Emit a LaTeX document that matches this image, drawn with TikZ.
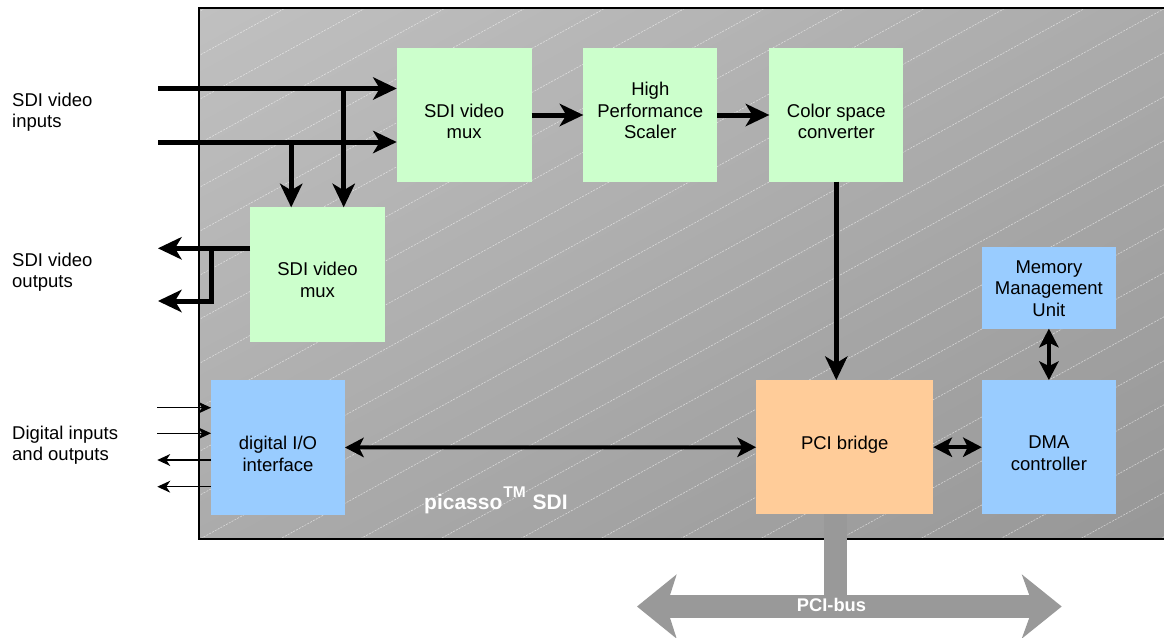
\documentclass[tikz,border=0pt]{standalone}
\usepackage{fontspec}
\setmainfont{Liberation Sans}
\usetikzlibrary{arrows.meta,shadings}
\definecolor{boxgreen}{HTML}{CCFFCC}
\definecolor{boxblue}{HTML}{99CCFF}
\definecolor{boxorange}{HTML}{FFCC99}
\definecolor{busgray}{HTML}{999999}
\definecolor{bgUL}{HTML}{C0C0C0}
\definecolor{bgUR}{HTML}{ABABAB}
\definecolor{bgLL}{HTML}{ABABAB}
\definecolor{bgLR}{HTML}{979797}
\tikzset{
  blk/.style={inner sep=0pt, outer sep=0pt, draw=none},
  gbox/.style={blk, fill=boxgreen},
  bbox/.style={blk, fill=boxblue},
  obox/.style={blk, fill=boxorange},
  txt/.style={align=center, inner sep=0pt, font=\fontsize{18.5}{21.5}\selectfont},
  ltxt/.style={align=left, inner sep=0pt, anchor=west, font=\fontsize{18.5}{21.5}\selectfont},
  arrBig/.style={line width=5pt, -{Stealth[length=24pt, width=23pt, inset=7pt, line width=0pt]}},
  arrMid/.style={line width=4pt, {Stealth[length=19pt, width=20pt, inset=5pt, line width=0pt]}-{Stealth[length=19pt, width=20pt, inset=5pt, line width=0pt]}},
  arrSig/.style={line width=1.5pt, -{Stealth[length=13pt, width=12pt, inset=4pt, line width=0pt]}},
  stripe/.style={white, opacity=0.55, line width=0.6pt, dash pattern=on 2pt off 1.2pt},
}
\begin{document}
\begin{tikzpicture}[x=1pt, y=-1pt]
\useasboundingbox (0,0) rectangle (1164,637);
% frame
\shade[upper left=bgUL, upper right=bgUR, lower left=bgLL, lower right=bgLR] (198.5,8.3) rectangle (1170,539.3);
\begin{scope}
  \clip (198.5,8.3) rectangle (1170,539.3);
  \foreach \k in {-13,...,15} {
    \draw[stripe] (198,{496.1+44*\k}) -- (1170,{-38.5+44*\k});
  }
\end{scope}
\draw[line width=2pt] (1170,8.3) -- (198.5,8.3) -- (198.5,539.3) -- (1170,539.3);

% PCI bus
\fill[busgray] (824.3,514.3) rectangle (846.7,596);
\fill[busgray] (637,606.5) -- (676.7,574.3) -- (670,595.2) -- (1029.3,595.2) -- (1021.7,574.3)
  -- (1061.7,606.5) -- (1021.7,638.7) -- (1029.3,617.8) -- (670,617.8) -- (676.7,638.7) -- cycle;
\node[inner sep=0pt, text=white, font=\bfseries\fontsize{18.3}{20}\selectfont] (busl) at (831.5,604.7) {PCI-bus};

% boxes
\node[gbox, minimum width=135pt, minimum height=133.4pt] (mux1) at (464.2,115) {};
\node[gbox, minimum width=134pt, minimum height=133.4pt] (scaler) at (650.3,115) {};
\node[gbox, minimum width=134pt, minimum height=133.4pt] (csc) at (836.3,115) {};
\node[gbox, minimum width=135pt, minimum height=134.4pt] (mux2) at (317.5,274.5) {};
\node[bbox, minimum width=134pt, minimum height=135pt] (io) at (278,447.5) {};
\node[obox, minimum width=177.3pt, minimum height=134.3pt] (pci) at (844.7,447.2) {};
\node[bbox, minimum width=134.3pt, minimum height=134.3pt] (dma) at (1048.9,447.2) {};
\node[bbox, minimum width=134.3pt, minimum height=81.4pt] (mmu) at (1048.9,288) {};

% box texts
\node[txt] (mux1t) at (464.2,121.5) {SDI video\\mux};
\node[txt] (scalert) at (650.3,110.5) {High\\Performance\\Scaler};
\node[txt] (csct) at (836.3,121.5) {Color space\\converter};
\node[txt] (mux2t) at (317.5,279.7) {SDI video\\mux};
\node[txt] (iot) at (278,453.7) {digital I/O\\interface};
\node[txt] (pcit) at (844.7,444.4) {PCI bridge};
\node[txt] (dmat) at (1048.9,453.3) {DMA\\controller};
\node[txt] (mmut) at (1048.9,288.3) {Memory\\Management\\Unit};

% left labels
\node[ltxt] (lin) at (12,112.4) {SDI video\\inputs};
\node[ltxt] (lout) at (12,272.3) {SDI video\\outputs};
\node[ltxt] (ldig) at (12,445) {Digital inputs\\and outputs};

% brand
\node[anchor=base west, inner sep=0pt, text=white, font=\bfseries\fontsize{21}{24}\selectfont] (brand) at (424,509.3) {picasso\kern1pt\raisebox{12pt}{\fontsize{15.5}{17}\selectfont TM}\kern1pt\ SDI};

% inputs
\coordinate (in1) at (158,88.5);
\coordinate (in2) at (158,142);
\coordinate (j1) at (343.7,88.5);
\coordinate (j2) at (291.2,142);
\draw[arrBig] (in1) -- (in1 -| mux1.west);
\draw[arrBig] (in2) -- (in2 -| mux1.west);
\draw[arrBig] (j1) -- (j1 |- mux2.north);
\draw[arrBig] (j2) -- (j2 |- mux2.north);

% chain
\draw[arrBig] (mux1) -- (scaler);
\draw[arrBig] (scaler) -- (csc);
\draw[arrBig] (csc.south) -- (csc.south |- pci.north);

% outputs
\coordinate (o1) at (158,248.3);
\coordinate (o2) at (158,301);
\coordinate (jo) at (211.7,248.3);
\draw[arrBig] (mux2.west |- o1) -- (o1);
\draw[arrBig, line join=miter] (jo) -- (jo |- o2) -- (o2);

% digital I/O
\coordinate (d1) at (157.3,407.7);
\coordinate (d2) at (157.3,433.3);
\coordinate (d3) at (157.3,460);
\coordinate (d4) at (157.3,486.7);
\draw[arrSig] (d1) -- (d1 -| io.west);
\draw[arrSig] (d2) -- (d2 -| io.west);
\draw[arrSig] (d3 -| io.west) -- (d3);
\draw[arrSig] (d4 -| io.west) -- (d4);

% bidirectional
\draw[arrMid] (io) -- (pci);
\draw[arrMid] (pci) -- (dma);
\draw[arrMid] (mmu) -- (dma);
\end{tikzpicture}
\end{document}
